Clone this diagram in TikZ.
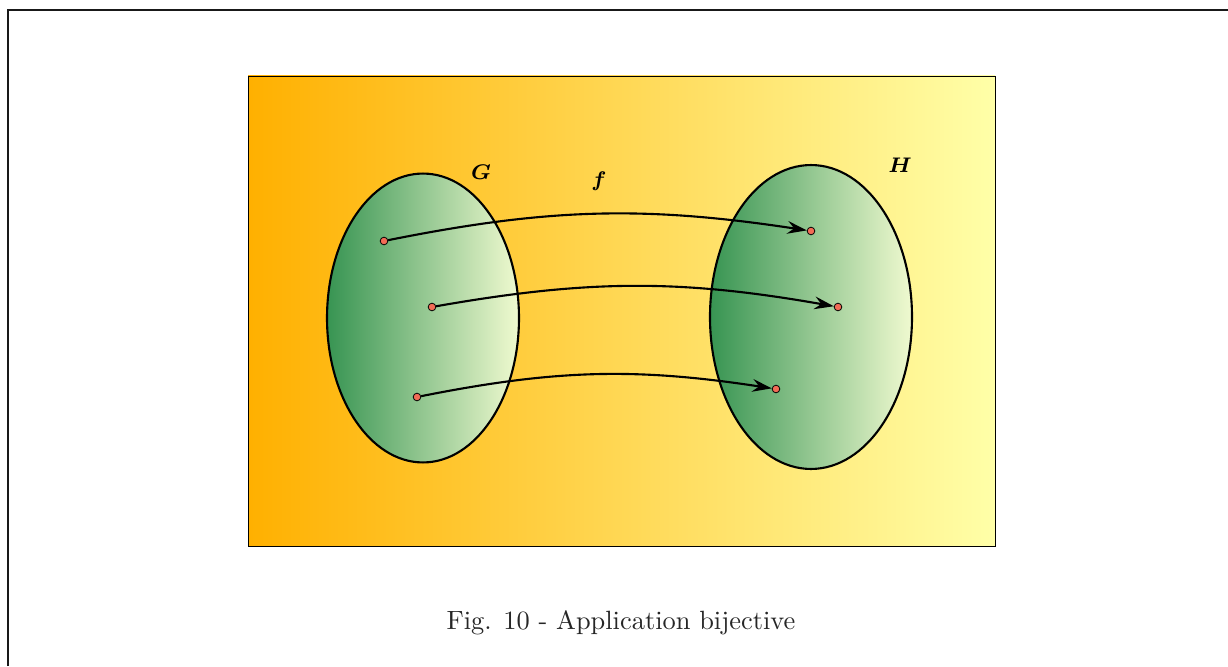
\documentclass[tikz,border=0pt]{standalone}
\usepackage{amsmath}
\usepackage{amssymb}
\usepackage{bm}
\usepackage{xcolor}
\usepackage{tikz}
\usetikzlibrary{shapes.geometric,arrows.meta}
\definecolor{fondG}{RGB}{255,176,0}
\definecolor{fondD}{RGB}{255,255,168}
\definecolor{ensG}{RGB}{55,148,82}
\definecolor{ensD}{RGB}{240,250,208}
\definecolor{pointc}{RGB}{242,108,86}
\tikzset{
  % --- ensembles --------------------------------------------------------------
  ens/.style={ellipse,draw,thick,inner sep=0pt,left color=ensG,right color=ensD},
  % --- elements ---------------------------------------------------------------
  elt/.style={circle,draw,line width=0.3pt,fill=pointc,inner sep=0pt,
              minimum size=2.9pt},
  fl/.style={-{Stealth[length=2.6mm,width=1.7mm,inset=0.9mm]},thick,bend left=10},
  nom/.style={font=\footnotesize},
}
\begin{document}
\begin{tikzpicture}[x=0.3787pt,y=0.3787pt]
  \useasboundingbox (0,0) rectangle (1228,666);
  % cadre
  \coordinate (c0) at (8,0);
  \coordinate (c1) at (8,656);
  \coordinate (c2) at (1228,656);
  \draw[line width=0.9pt,black!90] (c0) -- (c1) -- (c2);
  % fond
  \shade[left color=fondG,right color=fondD,draw=black,line width=0.3pt]
    (248,120) rectangle (995,590);
  \node[ens,minimum width=72.7pt,minimum height=109.4pt] (G) at (423,348) {};
  \node[ens,minimum width=76.5pt,minimum height=115.1pt] (H) at (811,349) {};
  \node[nom] (lG) at (481,494) {$\bm{G}$};
  \node[nom] (lf) at (599,485) {$\bm{f}$};
  \node[nom] (lH) at (900,501) {$\bm{H}$};
  \node[elt] (a1) at (384,425) {};
  \node[elt] (a2) at (432,359) {};
  \node[elt] (a3) at (417,269) {};
  \node[elt] (b1) at (811,435) {};
  \node[elt] (b2) at (838,359) {};
  \node[elt] (b3) at (776,277) {};
  \foreach \a/\b in {a1/b1,a2/b2,a3/b3} \draw[fl] (\a) to (\b);
  \node[text=black!85] (cap) at (621,43) {Fig. 10 - Application bijective};
\end{tikzpicture}
\end{document}
